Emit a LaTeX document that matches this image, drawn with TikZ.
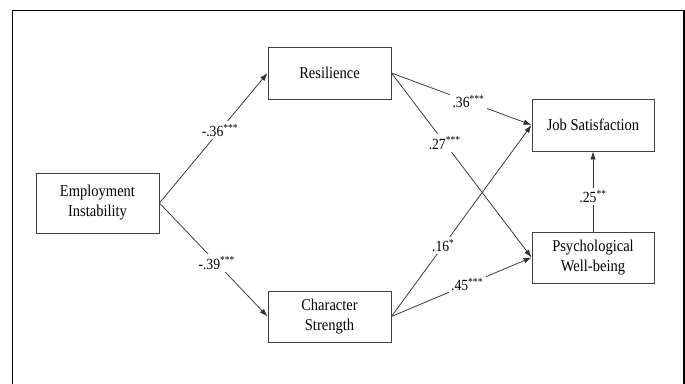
\documentclass[tikz,border=0pt]{standalone}
\usepackage{fontspec}
\setmainfont[FakeStretch=0.88]{Liberation Serif}
\usetikzlibrary{arrows.meta}
\begin{document}
\begin{tikzpicture}[x=1pt,y=-1pt,
  box/.style={draw=black!75,line width=0.9pt,rectangle,align=center,inner sep=0pt,
    font=\fontsize{16.5}{20}\selectfont,text=black},
  arr/.style={draw=black!80,line width=0.75pt,-{Latex[length=8pt,width=5.5pt]}},
  lbl/.style={fill=white,inner sep=2.5pt,font=\fontsize{15.5}{17}\selectfont,text=black}]
\useasboundingbox (0,0) rectangle (685,383);
\draw[line width=1.3pt] (12.3,384) -- (12.3,10.3) -- (684,10.3) -- (684,384);
\node[box,minimum width=123pt,minimum height=60pt] (ei) at (97.5,203) {Employment\\Instability};
\node[box,minimum width=123pt,minimum height=52pt] (res) at (329.5,73) {Resilience};
\node[box,minimum width=123pt,minimum height=51pt] (cs) at (329.5,316.5) {Character\\Strength};
\node[box,minimum width=122pt,minimum height=52pt] (js) at (593,125) {Job Satisfaction};
\node[box,minimum width=122pt,minimum height=51pt] (pw) at (593,257.5) {Psychological\\Well-being};
\draw[arr] (ei.east) -- node[lbl,pos=0.56] {-.36\textsuperscript{***}} (res.west);
\draw[arr] (ei.east) -- node[lbl,pos=0.53] {-.39\textsuperscript{***}} (cs.west);
\draw[arr] (res.east) -- node[lbl,pos=0.55] {.36\textsuperscript{***}} (js.west);
\draw[arr] (res.east) -- node[lbl,pos=0.38] {.27\textsuperscript{***}} (pw.west);
\draw[arr] (cs.east) -- node[lbl,pos=0.37] {.16\textsuperscript{*}} (js.west);
\draw[arr] (cs.east) -- node[lbl,pos=0.54] {.45\textsuperscript{***}} (pw.west);
\draw[arr] (pw.north) -- node[lbl,pos=0.44] {.25\textsuperscript{**}} (js.south);
\end{tikzpicture}
\end{document}
